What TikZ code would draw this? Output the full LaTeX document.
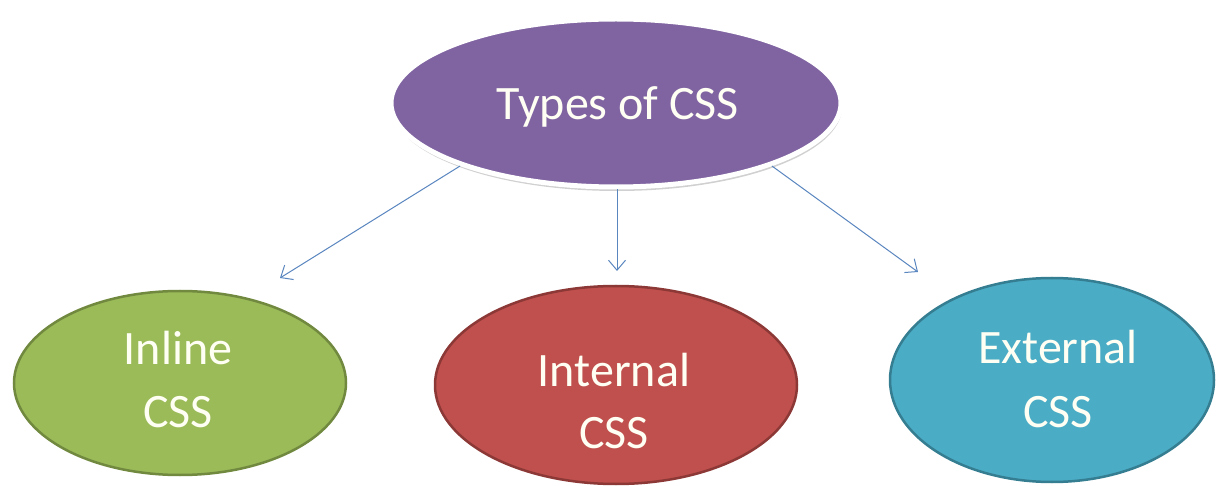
\documentclass[tikz,border=0pt]{standalone}
\usepackage{fontspec}
\setmainfont{Carlito}
\usetikzlibrary{shapes.geometric,arrows.meta,shadows}
\definecolor{cpurple}{HTML}{8064A2}
\definecolor{cgreen}{HTML}{9BBB59}
\definecolor{cgreenb}{HTML}{71893F}
\definecolor{cred}{HTML}{C0504D}
\definecolor{credb}{HTML}{8C3836}
\definecolor{cblue}{HTML}{4BACC6}
\definecolor{cblueb}{HTML}{357D91}
\definecolor{carrow}{HTML}{5A86C0}
\definecolor{ctext}{HTML}{FFFFF4}
\tikzset{
  blob/.style={ellipse, inner sep=0pt},
  lbl/.style={text=ctext, font=\fontsize{48}{62}\selectfont, inner sep=0pt, anchor=base},
  conn/.style={draw=carrow, line width=1pt, -{Straight Barb[length=10pt,width=17pt,line width=1pt]}}
}
\begin{document}
\begin{tikzpicture}[x=1pt,y=-1pt]
\useasboundingbox (0,0) rectangle (1216,486);
\fill[white] (0,0) rectangle (1216,486);
% top
\node[blob, fill=cpurple, draw=white, line width=5pt, minimum width=450pt, minimum height=168pt,
      drop shadow={shadow xshift=1pt, shadow yshift=-4pt, opacity=0.3, fill=black!60}] (top) at (616,103) {};
\node[lbl] (toptxt) at (618,120) {Types of CSS};
% bottom ellipses
\node[blob, fill=cgreen, draw=cgreenb, line width=2.5pt, minimum width=332pt, minimum height=184pt] (inline) at (180,383) {};
\node[blob, fill=cred, draw=credb, line width=2.5pt, minimum width=362pt, minimum height=198pt] (internal) at (616,385) {};
\node[blob, fill=cblue, draw=cblueb, line width=2.5pt, minimum width=324pt, minimum height=204pt] (external) at (1052,380) {};
\node[lbl] (inl1) at (178,365) {Inline};
\node[lbl] (inl2) at (178,427) {CSS};
\node[lbl] (int1) at (614,387) {Internal};
\node[lbl] (int2) at (614,448) {CSS};
\node[lbl] (ext1) at (1058,363) {External};
\node[lbl] (ext2) at (1058,427) {CSS};
% arrows
\coordinate (eL) at (280,278);
\coordinate (eM) at (617,271);
\coordinate (eR) at (918,272);
\draw[conn] (top.202) -- (eL);
\draw[conn] ([xshift=1pt]top.south) -- (eM);
\draw[conn] (top.338) -- (eR);
\end{tikzpicture}
\end{document}
